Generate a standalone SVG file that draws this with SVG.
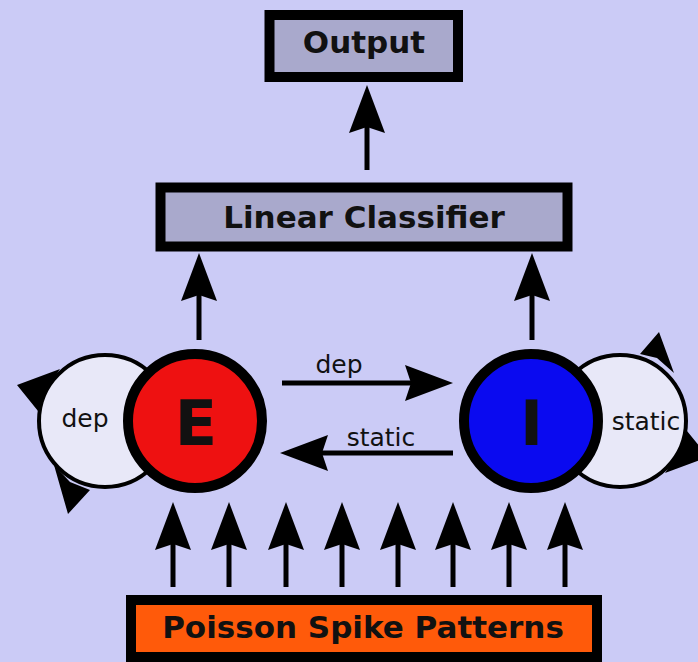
<svg xmlns="http://www.w3.org/2000/svg" width="698" height="662" viewBox="0 0 698 662">
  <style>
    .box { stroke: #000; stroke-width: 10; }
    .title { font-family: "DejaVu Sans", "Liberation Sans", sans-serif; font-weight: bold; font-size: 31px; fill: #111; text-anchor: middle; }
    .lbl { font-family: "DejaVu Sans", "Liberation Sans", sans-serif; font-size: 25px; fill: #111; text-anchor: middle; }
    .big { font-family: "DejaVu Sans", "Liberation Sans", sans-serif; font-weight: bold; font-size: 62px; fill: #111; text-anchor: middle; }
    .neuron { stroke: #000; stroke-width: 10; }
    .arrow { stroke: #000; stroke-width: 5; fill: none; marker-end: url(#ah); }
    .loop { fill: #e8e8f8; stroke: #000; stroke-width: 4; }
    .head { fill: #000; }
  </style>
  <defs>
    <marker id="ah" markerUnits="userSpaceOnUse" markerWidth="50" markerHeight="38" viewBox="0 0 50 38" refX="6" refY="18" orient="auto">
      <path d="M0,0 L48,18 L0,36 L6,18 Z" fill="#000"/>
    </marker>
  </defs>
  <rect x="0" y="0" width="698" height="662" fill="#cbcbf6"/>

  <g id="connectors">
    <line class="arrow" x1="367" y1="170" x2="367" y2="127"/>
    <line class="arrow" x1="199" y1="340" x2="199" y2="295"/>
    <line class="arrow" x1="532" y1="340" x2="532" y2="295"/>
    <line class="arrow" x1="282" y1="383" x2="411" y2="383"/>
    <line class="arrow" x1="453" y1="453" x2="322" y2="453"/>
    <line class="arrow" x1="173" y1="587" x2="173" y2="544"/>
    <line class="arrow" x1="229" y1="587" x2="229" y2="544"/>
    <line class="arrow" x1="286" y1="587" x2="286" y2="544"/>
    <line class="arrow" x1="342" y1="587" x2="342" y2="544"/>
    <line class="arrow" x1="398" y1="587" x2="398" y2="544"/>
    <line class="arrow" x1="453" y1="587" x2="453" y2="544"/>
    <line class="arrow" x1="509" y1="587" x2="509" y2="544"/>
    <line class="arrow" x1="565" y1="587" x2="565" y2="544"/>
    <g id="loop-E">
      <circle class="loop" cx="105" cy="421" r="66"/>
      <polygon class="head" points="17,385 60,369 45,392 38,411"/>
      <polygon class="head" points="68,514 54,465 70,482 90,490"/>
    </g>
    <g id="loop-I">
      <circle class="loop" cx="620" cy="421" r="66"/>
      <polygon class="head" points="659,332 674,373 657,358 640,354"/>
      <polygon class="head" points="708,457 665,473 680,450 687,431"/>
    </g>
    <text class="lbl" x="339" y="373">dep</text>
    <text class="lbl" x="381" y="446">static</text>
    <text class="lbl" x="85" y="427">dep</text>
    <text class="lbl" x="646" y="430">static</text>
  </g>

  <g id="output">
    <rect class="box" x="269.5" y="15" width="188.5" height="62" fill="#a9a9cc"/>
    <text class="title" x="364" y="53">Output</text>
  </g>
  <g id="classifier">
    <rect class="box" x="160.5" y="187.5" width="407" height="59" fill="#a9a9cc"/>
    <text class="title" x="364" y="228">Linear Classifier</text>
  </g>
  <g id="E">
    <circle class="neuron" cx="195" cy="421" r="67" fill="#ee1111"/>
    <text class="big" x="196" y="445">E</text>
  </g>
  <g id="I">
    <circle class="neuron" cx="531" cy="421" r="67" fill="#0a0af0"/>
    <text class="big" x="531.5" y="445">I</text>
  </g>
  <g id="poisson">
    <rect class="box" x="131" y="600" width="466" height="57" fill="#ff5a0a"/>
    <text class="title" x="363" y="638">Poisson Spike Patterns</text>
  </g>
</svg>
